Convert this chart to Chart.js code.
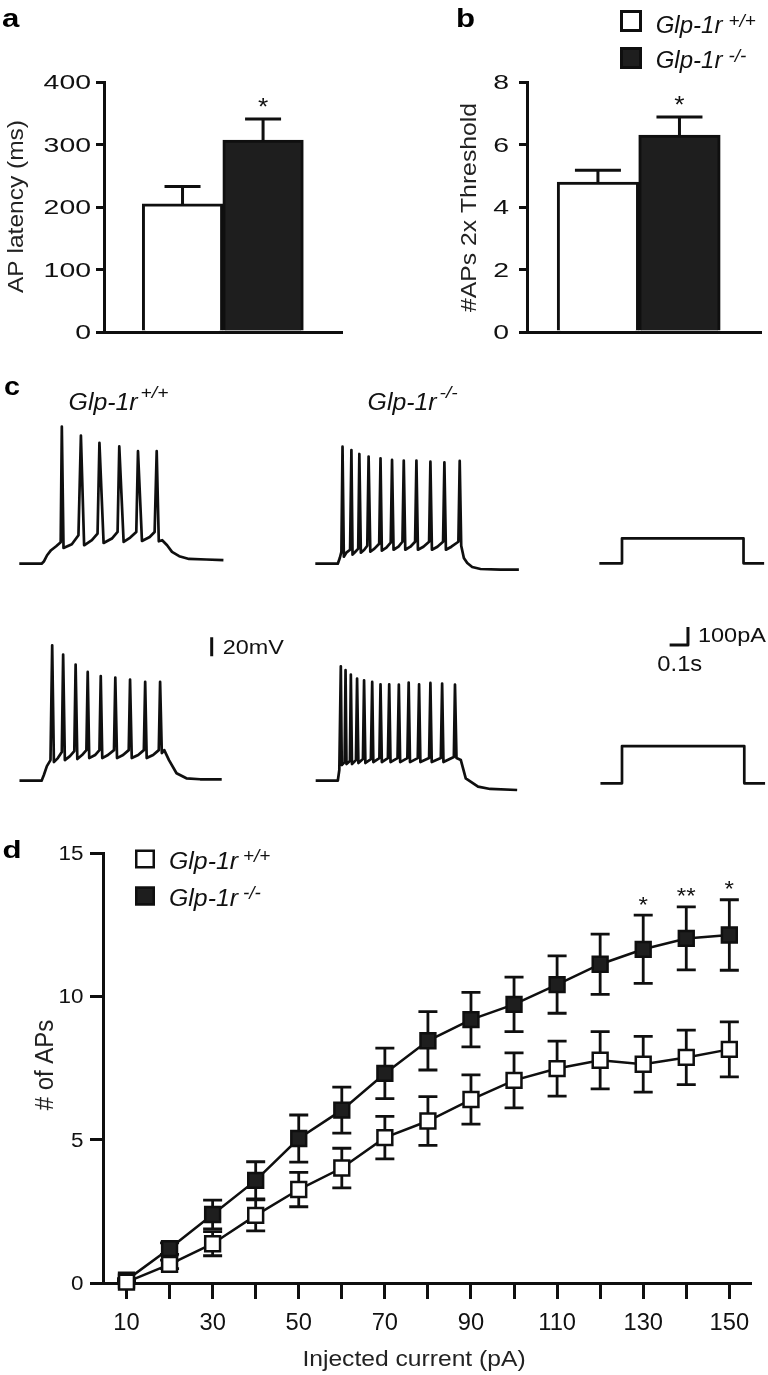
<!DOCTYPE html>
<html><head><meta charset="utf-8">
<script src="https://cdn.jsdelivr.net/npm/chart.js@4.4.1/dist/chart.umd.min.js"></script>
<style>
html,body{margin:0;padding:0;background:#fff;}
#page{position:relative;width:768px;height:1375px;overflow:hidden;background:#fff;}
canvas{position:absolute;display:block;}
</style></head><body><div id="page">
<canvas id="ca" width="384" height="350" style="left:0;top:0;width:384px;height:350px"></canvas>
<canvas id="cb" width="384" height="350" style="left:384px;top:0;width:384px;height:350px"></canvas>
<canvas id="cc" width="768" height="420" style="left:0;top:375px;width:768px;height:420px"></canvas>
<canvas id="cd" width="768" height="545" style="left:0;top:830px;width:768px;height:545px"></canvas>
</div>
<script>
// ---------------- data ----------------
const genotypes = ['Glp-1r', 'Glp-1r'];
const genotypeSup = ['+/+', '-/-'];
const groupPos = [1, 2];

// panel a: AP latency (ms)
const latencyMean = [205, 307];
const latencySem = [28, 34];
const latencySig = ['', '*'];
// panel b: #APs at 2x threshold
const apsMean = [4.8, 6.3];
const apsSem = [0.38, 0.58];
const apsSig = ['', '*'];

// panel c: example traces [time ms from step onset, membrane potential mV relative to rest]
const traceWtA = [[-118,0],[0,0],[13,2.6],[29,8.9],[50,14.2],[77,18.4],[101,22.6],[107,144.4],[116,16.6],[160,20.5],[195,29.9],[208,134.9],[225,19.4],[266,24.7],[296,31.7],[306,127.3],[328,21.8],[372,26.5],[402,33.4],[411,123.4],[434,22.9],[469,27.5],[501,33.4],[510,118.4],[531,23.9],[572,28.1],[598,33.4],[609,118.4],[620,23.6],[638,24.7],[664,19.4],[690,12.4],[728,7.9],[780,5.0],[871,4.4],[962,3.7]];
const traceKoA = [[-119,0],[0,0],[11,6.3],[19,12.6],[25,123.2],[32,7.4],[45,11.6],[65,14.7],[72,119.7],[78,9.5],[93,12.6],[108,15.8],[114,115.5],[122,11.6],[140,14.7],[156,18.9],[163,112.7],[172,12.6],[194,15.8],[219,21.0],[226,111.0],[233,13.7],[257,16.8],[280,22.1],[287,109.2],[295,14.7],[321,17.9],[342,23.1],[349,108.5],[357,14.7],[384,17.9],[409,23.1],[416,108.5],[424,14.7],[453,17.9],[483,23.1],[490,107.4],[498,14.7],[527,17.9],[557,23.1],[564,106.8],[572,14.7],[601,17.9],[638,23.1],[645,108.2],[653,18.9],[667,6.0],[685,0.7],[711,-3.5],[755,-5.6],[861,-6.3],[958,-6.3]];
const traceWtB = [[-117,0],[0,0],[12,6.0],[28,15.4],[47,21.7],[56,142.5],[65,19.6],[86,23.8],[107,30.1],[114,132.7],[123,21.7],[150,25.9],[173,31.2],[180,122.2],[189,22.8],[214,27.0],[237,32.2],[244,114.5],[252,23.8],[283,27.0],[306,32.2],[313,110.2],[321,23.8],[351,27.0],[383,32.2],[390,108.6],[399,23.8],[431,27.0],[461,32.2],[468,106.5],[477,23.8],[511,27.0],[541,32.2],[548,104.0],[556,23.8],[590,27.0],[620,32.2],[627,104.0],[636,29.1],[649,32.2],[674,21.7],[714,7.8],[766,2.5],[839,1.5],[953,1.5]];
const traceKoB = [[-117,0],[0,0],[8,11.2],[16,120.4],[21,16.5],[36,19.6],[41,116.3],[46,17.5],[64,20.7],[69,111.7],[75,17.5],[96,21.7],[102,107.5],[109,18.6],[133,22.8],[139,105.7],[146,18.6],[175,22.8],[182,104.0],[188,19.6],[220,23.8],[226,101.5],[233,19.6],[265,23.8],[272,101.5],[279,19.6],[316,23.8],[323,101.2],[330,19.6],[368,23.8],[375,103.3],[382,19.6],[423,23.8],[430,101.5],[437,19.6],[483,23.8],[490,102.9],[497,19.6],[545,23.8],[552,102.3],[559,19.6],[614,24.9],[620,101.2],[628,23.8],[651,21.7],[677,2.5],[742,-6.3],[806,-8.7],[949,-9.8]];
// injected current steps [time ms, current pA]
const stimA = [[-120,0],[0,0],[0,139],[643,139],[643,0],[752,0]];
const stimB = [[-114,0],[0,0],[0,207],[647,207],[647,0],[757,0]];
// scale bars (20 mV; 0.1 s x 100 pA)
const barVolt = [[900,131],[900,151]];
const barCurrent = [[252,768],[349,768],[349,868]];

// panel d: # of APs vs injected current
const currents = [10,20,30,40,50,60,70,80,90,100,110,120,130,140,150];
const wtMean = [0.03,0.65,1.37,2.36,3.26,4.01,5.07,5.65,6.40,7.07,7.48,7.77,7.63,7.87,8.15];
const wtSem  = [0.05,0.15,0.42,0.54,0.60,0.69,0.74,0.85,0.86,0.96,0.96,1.00,0.97,0.95,0.96];
const koMean = [0.10,1.20,2.39,3.58,5.04,6.03,7.31,8.45,9.19,9.72,10.41,11.12,11.64,12.02,12.14];
const koSem  = [0.05,0.20,0.50,0.65,0.82,0.80,0.88,1.02,0.95,0.95,1.00,1.05,1.19,1.10,1.23];
const koSig  = ['','','','','','','','','','','','','*','**','*'];

// ---------------- helpers ----------------
const INK = '#0f0f0f';
const FILLED = '#1e1e1e';
const OPEN = '#ffffff';
const FONT = '"Liberation Sans", Arial, Helvetica, sans-serif';
Chart.defaults.font.family = FONT;

function txt(ctx, s, x, y, o) {
  ctx.save();
  ctx.translate(x, y);
  if (o.rot) ctx.rotate(o.rot);
  ctx.scale(o.sx || 1, o.sy || 1);
  ctx.font = `${o.style || 'normal'} ${o.weight || 'normal'} ${o.size}px ${FONT}`;
  ctx.fillStyle = o.color || '#111';
  ctx.textAlign = o.align || 'left';
  ctx.textBaseline = 'alphabetic';
  ctx.fillText(s, 0, 0);
  const w = ctx.measureText(s).width * (o.sx || 1);
  ctx.restore();
  return w;
}
function genoLabel(ctx, i, x, y, o) {
  const w = txt(ctx, genotypes[i], x, y, {size: o.size, sx: o.sx, style: 'italic'});
  txt(ctx, genotypeSup[i], x + w + o.gap, y - o.raise, {size: o.supSize, sx: o.supSx, style: 'italic'});
}
function baseOptions(padding, scales) {
  return {responsive: false, animation: false, devicePixelRatio: 1, events: [],
    layout: {padding}, scales,
    plugins: {legend: {display: false}, tooltip: {enabled: false}}};
}
const axisLine = {display: true, color: INK, width: 3};
function valueAxis(min, max, step, tickLen) {
  return {min, max, ticks: {display: false, stepSize: step, maxTicksLimit: 40},
    grid: {display: true, drawOnChartArea: false, drawTicks: true, tickLength: tickLen, color: INK, lineWidth: 3},
    border: axisLine};
}
function strokeSeg(ctx, pts, w) {
  ctx.save(); ctx.strokeStyle = INK; ctx.lineWidth = w; ctx.lineCap = 'butt';
  ctx.beginPath();
  for (const s of pts) { ctx.moveTo(s[0], s[1]); ctx.lineTo(s[2], s[3]); }
  ctx.stroke(); ctx.restore();
}

// ---------------- panels a & b ----------------
function barPanel(id, mean, sem, sig, cfg) {
  return new Chart(document.getElementById(id), {
    type: 'bar',
    data: {datasets: [{data: groupPos.map((p, i) => ({x: p, y: mean[i]})),
      backgroundColor: [OPEN, FILLED], borderColor: INK, borderWidth: 3,
      categoryPercentage: 1, barPercentage: 1}]},
    options: baseOptions(cfg.padding, {
      x: {type: 'linear', min: cfg.xmin, max: cfg.xmax, offset: false,
        ticks: {display: false, stepSize: 1, includeBounds: false},
        grid: {display: false, drawTicks: false, offset: false}, border: axisLine},
      y: valueAxis(cfg.ymin, cfg.ymax, cfg.step, 8)
    }),
    plugins: [{
      id: 'barDecor',
      afterDatasetsDraw(chart) {
        const ctx = chart.ctx, ys = chart.scales.y;
        chart.getDatasetMeta(0).data.forEach((bar, i) => {
          const yTop = ys.getPixelForValue(mean[i] + sem[i]);
          strokeSeg(ctx, [[bar.x, bar.y, bar.x, yTop], [bar.x - cfg.cap / 2, yTop, bar.x + cfg.cap / 2, yTop]], 3);
          if (sig[i]) txt(ctx, sig[i], bar.x, yTop - 4, {size: 24, sx: 1.1, align: 'center'});
        });
      },
      afterDraw(chart) {
        const ctx = chart.ctx, ys = chart.scales.y;
        ys.ticks.forEach(t => {
          txt(ctx, t.label, cfg.tickRight, ys.getPixelForValue(t.value) + 7.2, {size: 20, sx: 1.42, align: 'right'});
        });
        txt(ctx, cfg.title, cfg.titleX, cfg.titleY, {size: 23, rot: -Math.PI / 2, sx: cfg.titleSx, sy: 0.94, align: 'center', color: '#222'});
        txt(ctx, cfg.letter, cfg.letterX, 27, {size: 26, weight: 'bold', sx: 1.2, color: '#000'});
        if (cfg.legend) {
          const L = cfg.legend;
          [OPEN, FILLED].forEach((fill, i) => {
            const y = L.top[i];
            ctx.save(); ctx.fillStyle = fill; ctx.fillRect(L.x, y, L.s, L.s);
            ctx.strokeStyle = INK; ctx.lineWidth = 3; ctx.strokeRect(L.x + 1.5, y + 1.5, L.s - 3, L.s - 3); ctx.restore();
            genoLabel(ctx, i, L.tx, L.base[i], {size: 24, sx: 1.0, gap: 6, raise: 6, supSize: 18, supSx: 1.05});
          });
        }
      }
    }]
  });
}
barPanel('ca', latencyMean, latencySem, latencySig, {
  padding: {left: 96, right: 42, top: 82, bottom: 18}, xmin: 0.025, xmax: 2.98,
  ymin: 0, ymax: 400, step: 100, cap: 36, tickRight: 91,
  title: 'AP latency (ms)', titleX: 22.7, titleY: 206.5, titleSx: 1.066, letter: 'a', letterX: 2
});
barPanel('cb', apsMean, apsSem, apsSig, {
  padding: {left: 135, right: 7, top: 82, bottom: 18}, xmin: 0.13, xmax: 3.0,
  ymin: 0, ymax: 8, step: 2, cap: 46, tickRight: 125,
  title: '#APs 2x Threshold', titleX: 91.7, titleY: 207.5, titleSx: 1.076, letter: 'b', letterX: 72,
  legend: {x: 236, s: 22, top: [10, 47], tx: 271.7, base: [33, 68]}
});

// ---------------- panel c ----------------
const MS_PER_PX = 100 / 18.9;   // 0.1 s scale bar length
const MV_PER_PX = 20 / 19;      // 20 mV scale bar length
const PA_PER_PX = 100 / 18;     // 100 pA scale bar length
const C = {top: 375, w: 768, h: 420};
function timeAxis(onsetPx) {
  const min = -onsetPx * MS_PER_PX;
  return {type: 'linear', display: false, min, max: min + C.w * MS_PER_PX};
}
function levelAxis(zeroPagePx, perPx) {
  const max = (zeroPagePx - C.top) * perPx;
  return {type: 'linear', display: false, max, min: max - C.h * perPx};
}
function trace(data, xAxisID, yAxisID, w) {
  return {data, xAxisID, yAxisID, borderColor: INK, borderWidth: w || 2.7, pointRadius: 0,
    tension: 0, fill: false, borderJoinStyle: 'round', borderCapStyle: 'butt'};
}
new Chart(document.getElementById('cc'), {
  type: 'line',
  data: {datasets: [
    trace(traceWtA, 'xL', 'yVT'), trace(traceKoA, 'xM', 'yVT'),
    trace(traceWtB, 'xL', 'yVB'), trace(traceKoB, 'xM', 'yVB'),
    trace(stimA, 'xR', 'yIT', 2.7), trace(stimB, 'xR', 'yIB', 2.7),
    trace(barVolt, 'xL', 'yVB', 3), trace(barCurrent, 'xR', 'yIB', 3)
  ]},
  options: baseOptions(0, {
    xL: timeAxis(41.6), xM: timeAxis(337.8), xR: timeAxis(622),
    yVT: levelAxis(563.7, MV_PER_PX), yVB: levelAxis(780.7, MV_PER_PX),
    yIT: levelAxis(563.3, PA_PER_PX), yIB: levelAxis(783.3, PA_PER_PX)
  }),
  plugins: [{
    id: 'cDecor',
    afterDraw(chart) {
      const ctx = chart.ctx, s = chart.scales;
      txt(ctx, 'c', 4, 20, {size: 25, weight: 'bold', sx: 1.15, color: '#000'});
      const hdr = {size: 23, sx: 1.08, gap: 3, raise: 12, supSize: 16, supSx: 1.2};
      genoLabel(ctx, 0, 68.6, 35, hdr);
      genoLabel(ctx, 1, 367.6, 35, hdr);
      txt(ctx, '20mV', s.xL.getPixelForValue(barVolt[0][0]) + 11, s.yVB.getPixelForValue(barVolt[0][1]) - 2, {size: 20, sx: 1.17});
      const bx = s.xR.getPixelForValue(barCurrent[1][0]);
      const by = s.yIB.getPixelForValue(barCurrent[1][1]);
      txt(ctx, '100pA', bx + 10, by - 3, {size: 21, sx: 1.12});
      txt(ctx, '0.1s', (s.xR.getPixelForValue(barCurrent[0][0]) + bx) / 2 + 1, by + 25.5, {size: 22, sx: 1.08, align: 'center'});
    }
  }]
});

// ---------------- panel d ----------------
function series(mean, fill) {
  return {data: currents.map((c, i) => ({x: c, y: mean[i]})), borderColor: INK, borderWidth: 2.5,
    pointStyle: 'rect', pointRadius: 10.5, pointBackgroundColor: fill, pointBorderColor: INK,
    pointBorderWidth: 2.5, tension: 0, fill: false, clip: false};
}
const dSem = [wtSem, koSem];
const dFill = [OPEN, FILLED];
new Chart(document.getElementById('cd'), {
  type: 'line',
  data: {datasets: [
    Object.assign(series(wtMean, OPEN), {label: 'Glp-1r +/+'}),
    Object.assign(series(koMean, FILLED), {label: 'Glp-1r -/-'})
  ]},
  options: baseOptions({left: 90, right: 18, top: 23, bottom: 76}, {
    x: {type: 'linear', min: 4.54, max: 154.8,
      ticks: {display: false, stepSize: 10, includeBounds: false, maxTicksLimit: 40,
        callback: v => ((v - 10) % 20 === 0 ? String(v) : '')},
      grid: {display: true, drawOnChartArea: false, drawTicks: true, tickLength: 16, color: INK, lineWidth: 3},
      border: axisLine},
    y: valueAxis(0, 15, 5, 13)
  }),
  plugins: [{
    id: 'dDecor',
    beforeDatasetDraw(chart, args) {
      const ctx = chart.ctx, ys = chart.scales.y, i = args.index;
      const mean = i === 0 ? wtMean : koMean;
      const segs = [];
      args.meta.data.forEach((pt, k) => {
        const y1 = ys.getPixelForValue(mean[k] + dSem[i][k]);
        const y2 = ys.getPixelForValue(mean[k] - dSem[i][k]);
        segs.push([pt.x, y1, pt.x, y2], [pt.x - 9.5, y1, pt.x + 9.5, y1], [pt.x - 9.5, y2, pt.x + 9.5, y2]);
      });
      strokeSeg(ctx, segs, 2.8);
    },
    afterDraw(chart) {
      const ctx = chart.ctx, xs = chart.scales.x, ys = chart.scales.y;
      chart.getDatasetMeta(1).data.forEach((pt, k) => {
        if (!koSig[k]) return;
        const yTop = ys.getPixelForValue(koMean[k] + koSem[k]);
        txt(ctx, koSig[k], pt.x, yTop - 3.5, {size: 22, sx: 1.1, align: 'center'});
      });
      xs.ticks.forEach(t => {
        if (t.label) txt(ctx, t.label, xs.getPixelForValue(t.value), 500, {size: 23, sx: 1.03, align: 'center'});
      });
      ys.ticks.forEach(t => {
        txt(ctx, t.label, 83.5, ys.getPixelForValue(t.value) + 7, {size: 19.5, sx: 1.15, align: 'right'});
      });
      txt(ctx, 'Injected current (pA)', 414, 536, {size: 22, sx: 1.12, align: 'center', color: '#222'});
      txt(ctx, '# of APs', 53, 235, {size: 24, rot: -Math.PI / 2, sy: 1.1, align: 'center', color: '#222'});
      txt(ctx, 'd', 2.5, 28, {size: 24, weight: 'bold', sx: 1.3, color: '#000'});
      [0, 1].forEach(i => {
        const cy = [29, 66][i];
        ctx.save(); ctx.fillStyle = dFill[i]; ctx.fillRect(135, cy - 9.5, 20, 19);
        ctx.strokeStyle = INK; ctx.lineWidth = 2.5; ctx.strokeRect(136.25, cy - 8.25, 17.5, 16.5); ctx.restore();
        genoLabel(ctx, i, 169, [39, 76][i], {size: 23, sx: 1.08, gap: 5, raise: 7, supSize: 18, supSx: 1.05});
      });
    }
  }]
});
</script></body></html>
